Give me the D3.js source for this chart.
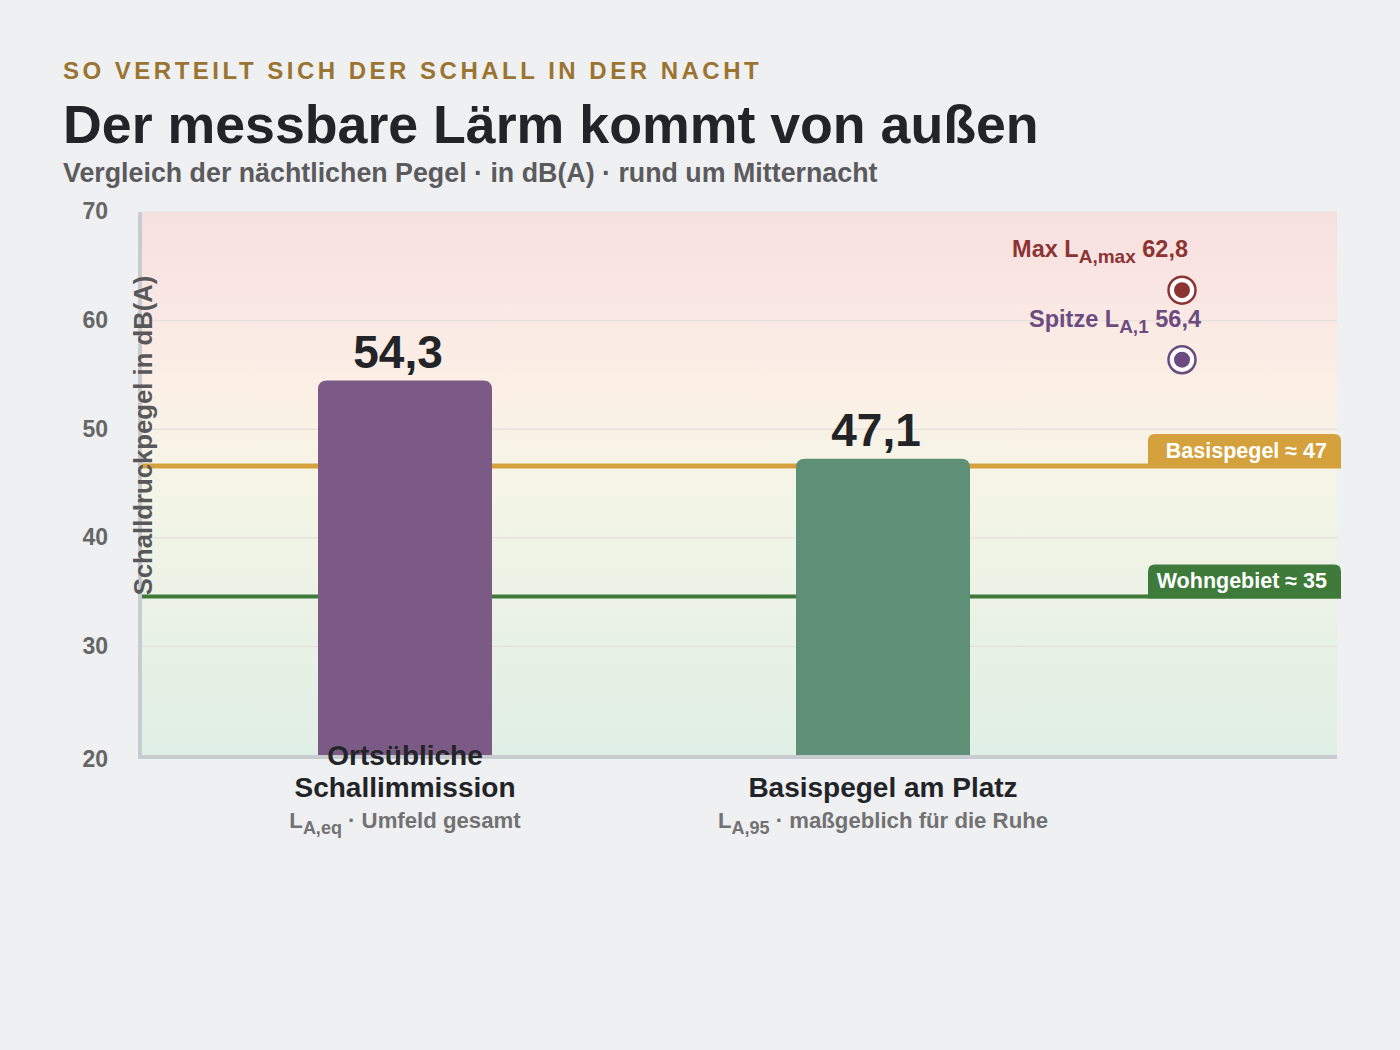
<!DOCTYPE html>
<html>
<head>
<meta charset="utf-8">
<script src="https://cdn.jsdelivr.net/npm/d3@7"></script>
<style>
  body { margin: 0; background: #eff0f2; font-family: "Liberation Sans", Arial, sans-serif; }
  svg text { font-family: "Liberation Sans", Arial, sans-serif; font-weight: bold; }
</style>
</head>
<body>
<div id="chart"></div>
<script>
// data
var categories = ["Ortsübliche Schallimmission", "Basispegel am Platz"];
var categoryLines = [["Ortsübliche", "Schallimmission"], ["Basispegel am Platz"]];
var categorySubs = [["L", "A,eq", " · Umfeld gesamt"], ["L", "A,95", " · maßgeblich für die Ruhe"]];
var values = [54.3, 47.1];
var barColors = ["#7b5b85", "#5e8f77"];

var refNames = ["Basispegel ≈ 47", "Wohngebiet ≈ 35"];
var refValues = [46.6, 34.6];
var refColors = ["#d4a13c", "#3e7b3b"];

var peakNames = [["Max L", "A,max", " 62,8"], ["Spitze L", "A,1", " 56,4"]];
var peakValues = [62.8, 56.4];
var peakColors = ["#8c3434", "#6c4b80"];

var yTicks = [20, 30, 40, 50, 60, 70];

var W = 1400, H = 1050;
var plot = { left: 142, right: 1337, top: 212, bottom: 755 };

var svg = d3.select("#chart").append("svg").attr("width", W).attr("height", H);

// headings
svg.append("text").attr("x", 63).attr("y", 79)
  .attr("fill", "#9a7430").attr("font-size", 24).attr("letter-spacing", 3.5)
  .text("SO VERTEILT SICH DER SCHALL IN DER NACHT");
svg.append("text").attr("x", 63).attr("y", 143)
  .attr("fill", "#222427").attr("font-size", 53.7)
  .text("Der messbare Lärm kommt von außen");
svg.append("text").attr("x", 63).attr("y", 182)
  .attr("fill", "#5b5b5e").attr("font-size", 26.8)
  .text("Vergleich der nächtlichen Pegel · in dB(A) · rund um Mitternacht");

var y = d3.scaleLinear().domain([20, 70]).range([plot.bottom, plot.top]);
var x = d3.scaleBand().domain(categories).range([166, 1122]).paddingInner(0.636).paddingOuter(0.318);

// background gradient
var defs = svg.append("defs");
var grad = defs.append("linearGradient").attr("id", "bg").attr("x1", 0).attr("y1", 0).attr("x2", 0).attr("y2", 1);
[["0%", "#f7dfe0"], ["33%", "#fcf0e6"], ["50%", "#f4f5e6"], ["100%", "#e0efe5"]].forEach(function (s) {
  grad.append("stop").attr("offset", s[0]).attr("stop-color", s[1]);
});
svg.append("rect").attr("x", plot.left).attr("y", plot.top)
  .attr("width", plot.right - plot.left).attr("height", plot.bottom - plot.top)
  .attr("fill", "url(#bg)");

// grid
svg.append("g").selectAll("line").data(yTicks.slice(1, -1)).enter().append("line")
  .attr("x1", plot.left).attr("x2", plot.right)
  .attr("y1", function (d) { return y(d); }).attr("y2", function (d) { return y(d); })
  .attr("stroke", "#e6dfdb").attr("stroke-width", 1.2);
svg.append("line").attr("x1", plot.left).attr("x2", plot.right).attr("y1", plot.top).attr("y2", plot.top)
  .attr("stroke", "#ece3e2").attr("stroke-width", 1);

// y axis
var yAxis = svg.append("g").attr("transform", "translate(" + (plot.left - 2) + ",0)")
  .call(d3.axisLeft(y).tickValues(yTicks).tickSize(0).tickPadding(32));
yAxis.select(".domain").remove();
yAxis.selectAll("text").attr("font-size", 23).attr("fill", "#666").attr("dy", "0.3em");
yAxis.selectAll(".tick").each(function (d) {
  if (d === 20) d3.select(this).select("text").attr("dy", "0.48em");
});

// axis lines
svg.append("line").attr("x1", plot.left - 2).attr("x2", plot.left - 2)
  .attr("y1", plot.top).attr("y2", plot.bottom + 4)
  .attr("stroke", "#c8cbd0").attr("stroke-width", 4);
svg.append("line").attr("x1", plot.left - 4).attr("x2", plot.right)
  .attr("y1", plot.bottom + 2).attr("y2", plot.bottom + 2)
  .attr("stroke", "#c8cbd0").attr("stroke-width", 4);

// reference lines
var refs = svg.append("g").selectAll("g").data(refValues).enter().append("g");
refs.append("line")
  .attr("x1", plot.left).attr("x2", plot.right + 4)
  .attr("y1", function (d) { return y(d); }).attr("y2", function (d) { return y(d); })
  .attr("stroke", function (d, i) { return refColors[i]; })
  .attr("stroke-width", function (d, i) { return i === 0 ? 5 : 4; });
refs.append("path")
  .attr("d", function (d, i) {
    var x0 = plot.right + 4 - 193, x1 = plot.right + 4, yb = y(d) + 2, yt = yb - 34, r = 7;
    return "M" + x0 + "," + yb + "V" + (yt + r) + "Q" + x0 + "," + yt + " " + (x0 + r) + "," + yt +
      "H" + (x1 - r) + "Q" + x1 + "," + yt + " " + x1 + "," + (yt + r) + "V" + yb + "Z";
  })
  .attr("fill", function (d, i) { return refColors[i]; });
refs.append("text")
  .attr("x", plot.right - 10).attr("y", function (d) { return y(d) - 8; })
  .attr("text-anchor", "end").attr("fill", "#fff").attr("font-size", 21.5)
  .text(function (d, i) { return refNames[i]; });

// bars
function topRounded(x0, y0, w, h, r) {
  return "M" + x0 + "," + (y0 + h) + "V" + (y0 + r) + "Q" + x0 + "," + y0 + " " + (x0 + r) + "," + y0 +
    "H" + (x0 + w - r) + "Q" + (x0 + w) + "," + y0 + " " + (x0 + w) + "," + (y0 + r) + "V" + (y0 + h) + "Z";
}
svg.append("g").selectAll("path").data(values).enter().append("path")
  .attr("d", function (d, i) {
    var top = y(d) - 2;
    return topRounded(x(categories[i]), top, x.bandwidth(), plot.bottom - top, 9);
  })
  .attr("fill", function (d, i) { return barColors[i]; });

svg.append("g").selectAll("text").data(values).enter().append("text")
  .attr("x", function (d, i) { return x(categories[i]) + x.bandwidth() / 2 - 7; })
  .attr("y", function (d) { return y(d) - 15; })
  .attr("text-anchor", "middle").attr("fill", "#222427").attr("font-size", 46)
  .text(function (d) { return d3.format(".1f")(d).replace(".", ","); });

// category labels
categories.forEach(function (c, i) {
  var cx = x(c) + x.bandwidth() / 2;
  var lines = categoryLines[i];
  lines.forEach(function (l, j) {
    svg.append("text").attr("x", cx).attr("y", 797 - (lines.length - 1 - j) * 32)
      .attr("text-anchor", "middle").attr("fill", "#222427").attr("font-size", 28)
      .text(l);
  });
  var s = categorySubs[i];
  var t = svg.append("text").attr("x", cx).attr("y", 828)
    .attr("text-anchor", "middle").attr("fill", "#727272").attr("font-size", 22.2);
  t.append("tspan").text(s[0]);
  t.append("tspan").attr("font-size", 18).attr("dy", 6).text(s[1]);
  t.append("tspan").attr("dy", -6).text(s[2]);
});

// peak markers
var markerX = 1182;
var peaks = svg.append("g").selectAll("g").data(peakValues).enter().append("g");
peaks.append("circle").attr("cx", markerX).attr("cy", function (d) { return y(d); })
  .attr("r", 13.5).attr("fill", "#fff")
  .attr("stroke", function (d, i) { return peakColors[i]; }).attr("stroke-width", 2.5);
peaks.append("circle").attr("cx", markerX).attr("cy", function (d) { return y(d); })
  .attr("r", 8).attr("fill", function (d, i) { return peakColors[i]; });
peaks.each(function (d, i) {
  var t = d3.select(this).append("text")
    .attr("x", markerX + (i === 0 ? 6 : 19)).attr("y", y(d) - 33)
    .attr("text-anchor", "end").attr("fill", peakColors[i]).attr("font-size", 23.5);
  t.append("tspan").text(peakNames[i][0]);
  t.append("tspan").attr("font-size", 19).attr("dy", 6).text(peakNames[i][1]);
  t.append("tspan").attr("dy", -6).text(peakNames[i][2]);
});

// y axis title
svg.append("text")
  .attr("transform", "translate(152," + ((plot.top + plot.bottom) / 2 - 48) + ") rotate(-90)")
  .attr("text-anchor", "middle").attr("fill", "#58585b").attr("font-size", 25.7)
  .text("Schalldruckpegel in dB(A)");
</script>
</body>
</html>
